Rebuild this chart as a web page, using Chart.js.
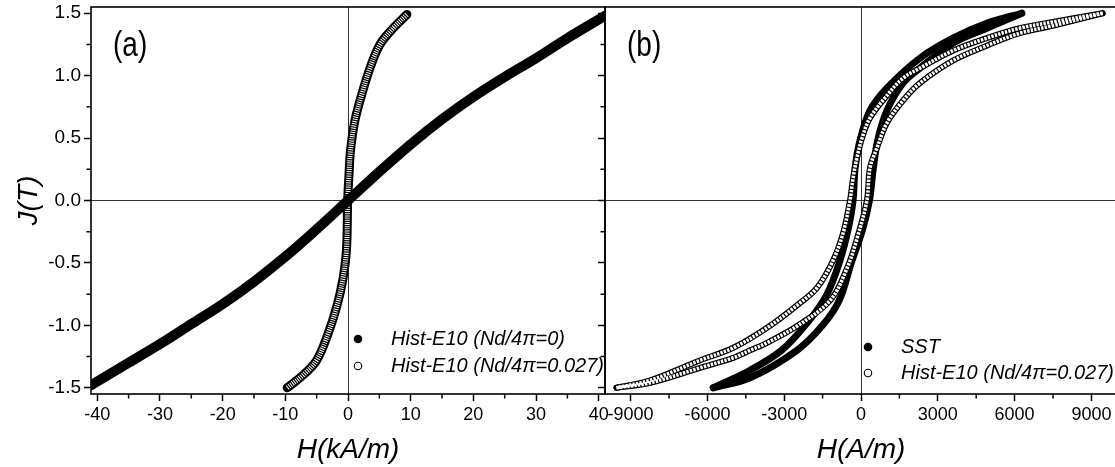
<!DOCTYPE html>
<html lang="en">
<head>
<meta charset="utf-8">
<title>J(H) curves</title>
<script src="https://cdn.jsdelivr.net/npm/chart.js@4.4.1/dist/chart.umd.min.js"></script>
<style>
    html, body { margin: 0; padding: 0; background: #fff; overflow: hidden; }
    #wrap { position: relative; width: 1115px; height: 467px; overflow: hidden; }
    #wrap canvas { position: absolute; top: 0; }
    #chartA { left: 0; }
    #chartB { left: 575px; }
</style>
</head>
<body>
<div id="wrap">
    <canvas id="chartA" width="630" height="467"></canvas>
    <canvas id="chartB" width="552" height="467"></canvas>
</div>
<script>
// ---- panel (a): H in kA/m, J in T ----
const hA0 = [-41, -35, -30, -25, -20, -15, -10, -5, 0, 5, 10, 15, 20, 25, 30, 35, 41];
const jA0 = [-1.48, -1.30, -1.15, -0.99, -0.83, -0.65, -0.45, -0.23, 0, 0.23, 0.45, 0.65, 0.83, 0.99, 1.14, 1.30, 1.48];
const hA1 = [-9.7, -7.2, -5.0, -3.2, -1.8, -0.85, -0.25, -0.05, 0.15, 0.4, 1.1, 2.2, 3.5, 5.1, 7.2, 9.4];
const jA1 = [-1.50, -1.40, -1.28, -1.07, -0.85, -0.64, -0.40, 0.00, 0.20, 0.40, 0.64, 0.85, 1.06, 1.25, 1.38, 1.49];

// ---- panel (b): H in A/m, J in T ----
const hSstUp = [-5770, -4330, -2500, -1500, -850, -380, 50, 330, 470, 650, 1010, 1640, 2300, 3590, 4910, 6280];
const jSstUp = [-1.50, -1.42, -1.20, -1.00, -0.80, -0.50, -0.24, 0.00, 0.24, 0.48, 0.72, 0.94, 1.06, 1.26, 1.38, 1.50];
const hSstDown = [6280, 4910, 3590, 2300, 1010, 350, -40, -230, -310, -470, -820, -1350, -2100, -3100, -4330, -5770];
const jSstDown = [1.50, 1.42, 1.30, 1.14, 0.90, 0.72, 0.48, 0.26, 0.00, -0.20, -0.48, -0.76, -0.98, -1.20, -1.36, -1.50];
const hE10Up = [-9550, -8230, -6280, -4990, -4330, -3670, -2450, -1200, -560, -150, 230, 350, 620, 1010, 1640, 2300, 3590, 4910, 6200, 7490, 9440];
const jE10Up = [-1.50, -1.46, -1.34, -1.26, -1.20, -1.14, -1.00, -0.80, -0.55, -0.30, 0.00, 0.26, 0.42, 0.62, 0.80, 0.94, 1.12, 1.24, 1.34, 1.40, 1.50];
const hE10Down = [9440, 7490, 6200, 4910, 3590, 2300, 1640, 1010, 350, 40, -160, -310, -430, -700, -1090, -1720, -2380, -3670, -4990, -6280, -8230, -9550];
const jE10Down = [1.50, 1.43, 1.38, 1.30, 1.20, 1.06, 0.98, 0.84, 0.66, 0.50, 0.34, 0.18, 0.00, -0.26, -0.48, -0.70, -0.82, -1.02, -1.18, -1.28, -1.44, -1.50];

// ---- ticks and labels ----
const jTicks = [-1.5, -1.0, -0.5, 0, 0.5, 1.0, 1.5];
const jMinor = [-1.25, -0.75, -0.25, 0.25, 0.75, 1.25];
const hTicksA = [-40, -30, -20, -10, 0, 10, 20, 30, 40];
const hMinorA = [-35, -25, -15, -5, 5, 15, 25, 35];
const hTicksB = [-9000, -6000, -3000, 0, 3000, 6000, 9000];
const hMinorB = [-7500, -4500, -1500, 1500, 4500, 7500];
const legendA = ['Hist-E10 (Nd/4\u03C0=0)', 'Hist-E10 (Nd/4\u03C0=0.027)'];
const legendB = ['SST', 'Hist-E10 (Nd/4\u03C0=0.027)'];

const FONT = '"Liberation Sans", Arial, Helvetica, sans-serif';
Chart.defaults.font.family = FONT;
Chart.defaults.color = '#000';

function puntos(h, j) {
    return h.map((x, i) => ({ x: x, y: j[i] }));
}

// curva de marcadores rellenos -> linea gruesa negra
function rellena(h, j, ancho, orden) {
    return {
        data: puntos(h, j), showLine: true, pointRadius: 0, tension: 0.35,
        borderColor: '#000', borderWidth: ancho, borderCapStyle: 'round',
        borderJoinStyle: 'round', clip: 0, order: orden
    };
}

// curva de circulos abiertos -> tubo negro con relleno blanco punteado
function hueca(h, j, ancho, interior, guion) {
    const base = { data: puntos(h, j), showLine: true, pointRadius: 0, tension: 0.35, clip: 0 };
    return [
        Object.assign({}, base, { borderColor: '#000', borderWidth: ancho, borderCapStyle: 'round', borderJoinStyle: 'round', order: 2 }),
        Object.assign({}, base, { borderColor: '#fff', borderWidth: interior, borderDash: guion, borderCapStyle: 'butt', order: 1 })
    ];
}

function decoracion(cfg) {
    return {
        id: 'decoracion',
        afterDraw(chart) {
            const ctx = chart.ctx;
            const a = chart.chartArea;
            const xs = chart.scales.x, ys = chart.scales.y;
            ctx.save();
            ctx.strokeStyle = '#000';
            ctx.lineWidth = 1.5;
            ctx.beginPath();
            cfg.minorX.forEach(v => {
                const px = xs.getPixelForValue(v);
                ctx.moveTo(px, a.bottom);
                ctx.lineTo(px, a.bottom + 4.5);
            });
            jMinor.forEach(v => {
                const py = ys.getPixelForValue(v);
                ctx.moveTo(a.left, py);
                ctx.lineTo(a.left - 4.5, py);
            });
            ctx.stroke();
            ctx.lineWidth = 1.6;
            ctx.strokeRect(a.left, a.top, a.right - a.left, a.bottom - a.top);

            // etiqueta del panel, algo estirada en vertical como en el original
            ctx.fillStyle = '#000';
            ctx.textBaseline = 'middle';
            ctx.textAlign = 'left';
            ctx.save();
            ctx.translate(a.left + 22, a.top + 39);
            ctx.scale(1, 1.25);
            ctx.font = '28px ' + FONT;
            ctx.fillText(cfg.etiqueta, 0, 0);
            ctx.restore();

            // leyenda
            ctx.font = 'italic 20px ' + FONT;
            cfg.leyenda.forEach((txt, i) => {
                const mx = a.left + cfg.lx;
                const my = a.top + cfg.ly + i * cfg.paso;
                ctx.beginPath();
                ctx.arc(mx, my, i === 0 ? 4.3 : 3.7, 0, Math.PI * 2);
                if (i === 0) {
                    ctx.fill();
                } else {
                    ctx.lineWidth = 1.1;
                    ctx.stroke();
                }
                ctx.fillText(txt, mx + 33, my);
            });
            ctx.restore();
        }
    };
}

function ejes(cfg) {
    const rejilla = {
        color: c => (c.tick && c.tick.value === 0 ? '#333' : 'rgba(0,0,0,0)'),
        lineWidth: 1, tickColor: '#000', tickLength: 7, tickWidth: 1.5
    };
    return {
        x: {
            type: 'linear', position: 'bottom', min: cfg.xmin, max: cfg.xmax,
            afterBuildTicks: s => { s.ticks = cfg.xticks.map(v => ({ value: v })); },
            afterFit: s => { s.height = 73; s.paddingLeft = 0; s.paddingRight = 0; },
            ticks: { font: { size: 18 }, padding: 3, maxRotation: 0, autoSkip: false, callback: v => String(v) },
            grid: rejilla,
            border: { display: false },
            title: { display: true, text: cfg.xtitle, font: { size: 28, style: 'italic' }, padding: { top: 0, bottom: 0 } }
        },
        y: {
            type: 'linear', position: 'left', min: -1.55, max: 1.55,
            afterBuildTicks: s => { s.ticks = jTicks.map(v => ({ value: v })); },
            afterFit: s => { s.width = cfg.yancho; s.paddingTop = 0; s.paddingBottom = 0; },
            ticks: { font: { size: 19 }, padding: 3, callback: v => (cfg.ylabels ? v.toFixed(1) : '') },
            grid: rejilla,
            border: { display: false },
            title: { display: cfg.ylabels, text: 'J(T)', font: { size: 28, style: 'italic' }, padding: { top: 12, bottom: 0 } }
        }
    };
}

const comunes = {
    responsive: false,
    animation: false,
    events: [],
    plugins: { legend: { display: false }, tooltip: { enabled: false } }
};

new Chart(document.getElementById('chartA'), {
    type: 'scatter',
    data: {
        datasets: [rellena(hA0, jA0, 10, 0)].concat(hueca(hA1, jA1, 9, 5, [1.0, 1.2]))
    },
    options: Object.assign({}, comunes, {
        layout: { padding: { top: 7, right: 25, bottom: 0, left: 0 } },
        scales: ejes({ xmin: -41, xmax: 41, xticks: hTicksA, xtitle: 'H(kA/m)', yancho: 91, ylabels: true })
    }),
    plugins: [decoracion({ minorX: hMinorA, etiqueta: '(a)', leyenda: legendA, lx: 267, ly: 332, paso: 27 })]
});

new Chart(document.getElementById('chartB'), {
    type: 'scatter',
    data: {
        datasets: [rellena(hSstUp, jSstUp, 7, 3), rellena(hSstDown, jSstDown, 7, 3)]
            .concat(hueca(hE10Up, jE10Up, 6, 3.6, [2.4, 1.2]))
            .concat(hueca(hE10Down, jE10Down, 6, 3.6, [2.4, 1.2]))
    },
    options: Object.assign({}, comunes, {
        layout: { padding: { top: 7, right: 10, bottom: 0, left: 0 } },
        scales: ejes({ xmin: -10000, xmax: 10000, xticks: hTicksB, xtitle: 'H(A/m)', yancho: 30, ylabels: false })
    }),
    plugins: [decoracion({ minorX: hMinorB, etiqueta: '(b)', leyenda: legendB, lx: 263, ly: 340, paso: 26 })]
});
</script>
</body>
</html>
